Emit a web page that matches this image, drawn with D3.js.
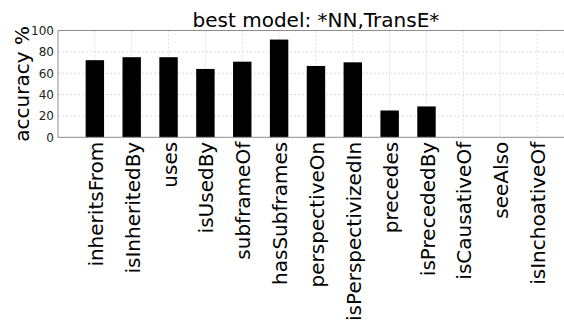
<!DOCTYPE html>
<html>
<head>
<meta charset="utf-8">
<script src="https://cdn.jsdelivr.net/npm/d3@7"></script>
<style>
  html, body { margin: 0; padding: 0; background: #fff; }
  svg { display: block; font-family: "DejaVu Sans", sans-serif; }
</style>
</head>
<body>
<svg id="chart" width="564" height="320"></svg>
<script>
// Relation categories and accuracy per relation
const relations = ["inheritsFrom", "isInheritedBy", "uses", "isUsedBy", "subframeOf",
  "hasSubframes", "perspectiveOn", "isPerspectivizedIn", "precedes", "isPrecededBy",
  "isCausativeOf", "seeAlso", "isInchoativeOf"];
const accuracy = [72.2, 75.0, 75.0, 64.0, 70.8, 91.5, 66.8, 70.2, 25.1, 28.9, 0, 0, 0];
const yTicks = [0, 20, 40, 60, 80, 100];
const titleText = "best model: *NN,TransE*";
const yLabel = "accuracy %";

(function draw() {
  const svg = d3.select("#chart");
  const plotLeft = 58, plotTop = 30.5, plotBottom = 137.3;
  const step = 36.85;
  const plotRight = plotLeft + 14 * step;

  // Categories sit at integer positions; view spans -1 .. 13
  const x = d3.scaleLinear().domain([-1, 13]).range([plotLeft, plotRight]);
  const y = d3.scaleLinear().domain([0, 100]).range([plotBottom, plotTop]);
  const barW = x(0.5) - x(0);

  // grid
  const grid = svg.append("g").attr("stroke", "#d4d4d4").attr("stroke-width", 0.8)
    .attr("stroke-dasharray", "2,2").attr("fill", "none");
  grid.selectAll("line.h").data(yTicks.filter(d => d > 0 && d < 100)).join("line")
    .attr("class", "h").attr("x1", plotLeft).attr("x2", plotRight)
    .attr("y1", d => y(d)).attr("y2", d => y(d));
  grid.selectAll("line.v").data(relations).join("line")
    .attr("class", "v").attr("x1", (d, i) => x(i)).attr("x2", (d, i) => x(i))
    .attr("y1", plotTop).attr("y2", plotBottom);

  // bars
  svg.append("g").selectAll("rect").data(accuracy).join("rect")
    .attr("x", (d, i) => x(i) - barW / 2)
    .attr("width", barW)
    .attr("y", d => y(d))
    .attr("height", d => y(0) - y(d))
    .attr("fill", "#000");

  // frame
  const frame = svg.append("g").attr("stroke", "#8c8c8c").attr("stroke-width", 1).attr("fill", "none");
  frame.append("line").attr("x1", plotLeft).attr("x2", plotRight).attr("y1", plotTop).attr("y2", plotTop);
  frame.append("line").attr("x1", plotLeft).attr("x2", plotRight).attr("y1", plotBottom).attr("y2", plotBottom);
  frame.append("line").attr("x1", plotLeft).attr("x2", plotLeft).attr("y1", plotTop).attr("y2", plotBottom);

  // y axis labels
  const yAxis = d3.axisLeft(y).tickValues(yTicks).tickSize(0).tickPadding(4);
  const gy = svg.append("g").attr("transform", `translate(${plotLeft},0)`).call(yAxis);
  gy.select(".domain").remove();
  gy.selectAll("text").attr("font-size", 12).attr("fill", "#222")
    .attr("font-family", "DejaVu Sans, sans-serif");

  // x category labels, rotated
  svg.append("g").selectAll("text").data(relations).join("text")
    .attr("transform", (d, i) => `translate(${x(i) + 8},${plotBottom + 4.5}) rotate(-90)`)
    .attr("text-anchor", "end")
    .attr("font-size", 20)
    .attr("fill", "#000")
    .text(d => d);

  // y title
  svg.append("text")
    .attr("transform", `translate(${28.5},${(plotTop + plotBottom) / 2}) rotate(-90)`)
    .attr("text-anchor", "middle").attr("font-size", 20).attr("fill", "#000")
    .text(yLabel);

  // chart title
  svg.append("text")
    .attr("x", (plotLeft + plotRight) / 2).attr("y", plotTop - 4)
    .attr("text-anchor", "middle").attr("font-size", 20).attr("fill", "#000")
    .text(titleText);
})();
</script>
</body>
</html>
